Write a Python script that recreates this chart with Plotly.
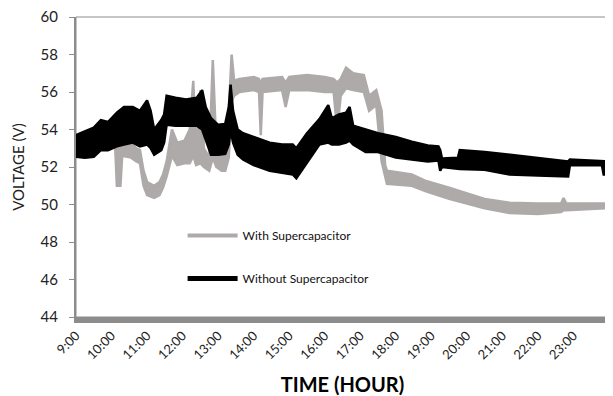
import plotly.graph_objects as go

# ---- data (hours as decimal, voltage envelope of the noisy band) ----
t_without = [9.0, 9.25, 9.5, 9.7, 9.9, 10.15, 10.35, 10.6, 10.8, 11.0, 11.1, 11.2, 11.4, 11.48, 11.55,
             11.8, 12.1, 12.4, 12.55, 12.65, 12.8, 13.0, 13.2, 13.3, 13.35, 13.42, 13.55, 13.7, 14.0,
             14.45, 14.8, 15.1, 15.2, 15.5, 15.85, 16.1, 16.2, 16.4, 16.6, 16.7, 16.8, 17.15, 17.5,
             18.0, 18.45, 18.9, 19.2, 19.25, 19.3, 19.75, 19.8, 20.5, 21.2, 22.0, 22.85, 22.9, 23.8,
             23.85, 24.0]
lo_without = [52.55, 52.5, 52.55, 52.9, 52.9, 53.1, 53.2, 53.3, 53.1, 53.2, 53.0, 52.65, 52.9, 53.3, 54.25,
              54.2, 54.2, 54.2, 54.0, 53.5, 52.65, 52.65, 52.7, 53.2, 54.0, 53.3, 52.65, 52.4, 52.1,
              51.8, 51.7, 51.6, 51.4, 52.2, 53.2, 53.3, 53.2, 53.2, 53.3, 53.4, 53.2, 52.8, 52.8,
              52.5, 52.4, 52.3, 52.35, 51.8, 52.0, 51.9, 51.9, 51.85, 51.6, 51.55, 51.5, 52.1, 52.1,
              51.6, 51.6]
hi_without = [53.7, 53.9, 54.1, 54.5, 54.4, 54.9, 55.2, 55.2, 55.0, 55.55, 55.0, 54.0, 54.5, 54.8, 55.8,
              55.7, 55.6, 55.7, 56.1, 55.2, 54.6, 54.25, 54.3, 55.2, 56.4, 55.0, 54.0, 53.8, 53.6,
              53.3, 53.2, 53.2, 53.0, 53.8, 54.55, 55.3, 54.6, 54.8, 54.9, 55.2, 54.2, 54.0, 53.8,
              53.6, 53.35, 53.15, 53.1, 52.9, 52.45, 52.5, 52.9, 52.8, 52.65, 52.45, 52.3, 52.4, 52.3,
              52.3, 52.3]

t_with = [9.0, 9.5, 10.0, 10.1, 10.15, 10.25, 10.3, 10.55, 10.7, 10.8, 10.9, 11.0, 11.2, 11.35, 11.45,
          11.55, 11.7, 11.85, 12.05, 12.2, 12.3, 12.38, 12.5, 12.6, 12.75, 12.85, 12.95, 13.1, 13.2,
          13.3, 13.38, 13.45, 13.6, 14.0, 14.15, 14.2, 14.25, 14.8, 14.9, 15.0, 15.5, 16.0, 16.25,
          16.35, 16.45, 16.6, 16.8, 17.1, 17.25, 17.45, 17.6, 17.7, 17.75, 18.45, 18.85, 19.5, 20.5,
          21.2, 22.0, 22.65, 22.72, 22.8, 23.95]
lo_with = [52.8, 53.0, 53.3, 53.2, 51.0, 51.0, 52.6, 52.5, 52.3, 52.2, 51.0, 50.5, 50.35, 50.5, 50.9,
           51.5, 52.6, 52.1, 52.2, 52.2, 52.6, 52.1, 52.2, 52.0, 51.8, 52.5, 52.0, 51.8, 51.8,
           52.5, 55.5, 55.8, 56.0, 56.1, 56.0, 53.7, 56.0, 56.1, 55.2, 56.1, 56.1, 56.0, 56.0,
           54.0, 55.8, 56.2, 56.1, 56.0, 55.0, 55.3, 52.3, 51.4, 51.1, 51.0, 50.7, 50.3, 49.8,
           49.55, 49.5, 49.6, 49.7, 49.7, 49.8]
hi_with = [53.4, 53.8, 54.2, 53.8, 53.4, 53.4, 53.4, 53.3, 53.0, 52.9, 51.8, 51.2, 51.0, 51.2, 51.6,
           52.3, 54.0, 53.3, 53.4, 54.0, 56.6, 52.8, 56.1, 53.0, 52.5, 57.7, 53.0, 52.6, 52.8,
           55.0, 58.0, 56.6, 56.7, 56.8, 56.7, 56.4, 56.7, 56.8, 56.5, 56.8, 56.9, 56.8, 56.7,
           56.5, 56.7, 57.3, 57.0, 56.9, 55.8, 56.1, 55.0, 52.1, 51.8, 51.6, 51.25, 50.9, 50.3,
           50.1, 50.05, 50.05, 50.35, 50.05, 50.05]

tick_hours = list(range(9, 24))
tick_labels = [f"{h}:00" for h in tick_hours]
y_ticks = [44, 46, 48, 50, 52, 54, 56, 58, 60]

GRAY = "#adaaa9"
BLACK = "#000000"
FONT = "Lato, 'Open Sans', sans-serif"

fig = go.Figure()


def add_band(t, lo, hi, color, width):
    fig.add_trace(go.Scatter(x=t, y=lo, mode="lines", line=dict(color=color, width=width),
                             showlegend=False, hoverinfo="skip"))
    fig.add_trace(go.Scatter(x=t, y=hi, mode="lines", line=dict(color=color, width=width),
                             fill="tonexty", fillcolor=color, showlegend=False, hoverinfo="skip"))


add_band(t_with, lo_with, hi_with, GRAY, 2.5)
add_band(t_without, lo_without, hi_without, BLACK, 2.5)

# legend entries
fig.add_trace(go.Scatter(x=[None], y=[None], mode="lines", name="With Supercapacitor",
                         line=dict(color=GRAY, width=4), legendgroup="a"))
fig.add_trace(go.Scatter(x=[None], y=[None], mode="lines", name="Without Supercapacitor",
                         line=dict(color=BLACK, width=5), legendgroup="b"))

# the page body has an 8px default margin, so the figure is 8px smaller
fig.update_layout(
    width=605, height=388,
    margin=dict(l=68, r=4, t=9, b=79, autoexpand=False),
    paper_bgcolor="white", plot_bgcolor="white",
    font=dict(family=FONT, color="#222222"),
    showlegend=True,
    legend=dict(x=0.2, y=0.32, xanchor="left", yanchor="top", bgcolor="rgba(0,0,0,0)",
                font=dict(size=12, color="#111111"), tracegroupgap=24, itemwidth=50),
    shapes=[dict(type="rect", xref="paper", yref="paper", x0=0, x1=1, y0=0, y1=1,
                 line=dict(color="#8c8c8c", width=1), layer="below")],
)

fig.update_xaxes(
    range=[9, 24], tickmode="array", tickvals=tick_hours, ticktext=tick_labels,
    tickangle=-45, tickfont=dict(size=13, color="#222222"), automargin=False,
    ticklabeloverflow="allow",
    showgrid=False, zeroline=False, showline=True, linecolor="#8c8c8c", linewidth=6,
    ticks="", title=dict(text="<b>TIME (HOUR)</b>", font=dict(size=20, color="#000000"), standoff=20),
)
fig.update_yaxes(
    range=[44, 60], tickmode="array", tickvals=y_ticks, automargin=False,
    tickfont=dict(size=15, color="#222222"), ticklabelstandoff=8, ticklabeloverflow="allow",
    showgrid=False, zeroline=False, showline=True, linecolor="#8c8c8c", linewidth=2,
    ticks="outside", ticklen=5, tickcolor="#8c8c8c", tickwidth=1,
    title=dict(text="VOLTAGE (V)", font=dict(size=15, color="#222222"), standoff=12),
)

fig.write_html("out.html")
